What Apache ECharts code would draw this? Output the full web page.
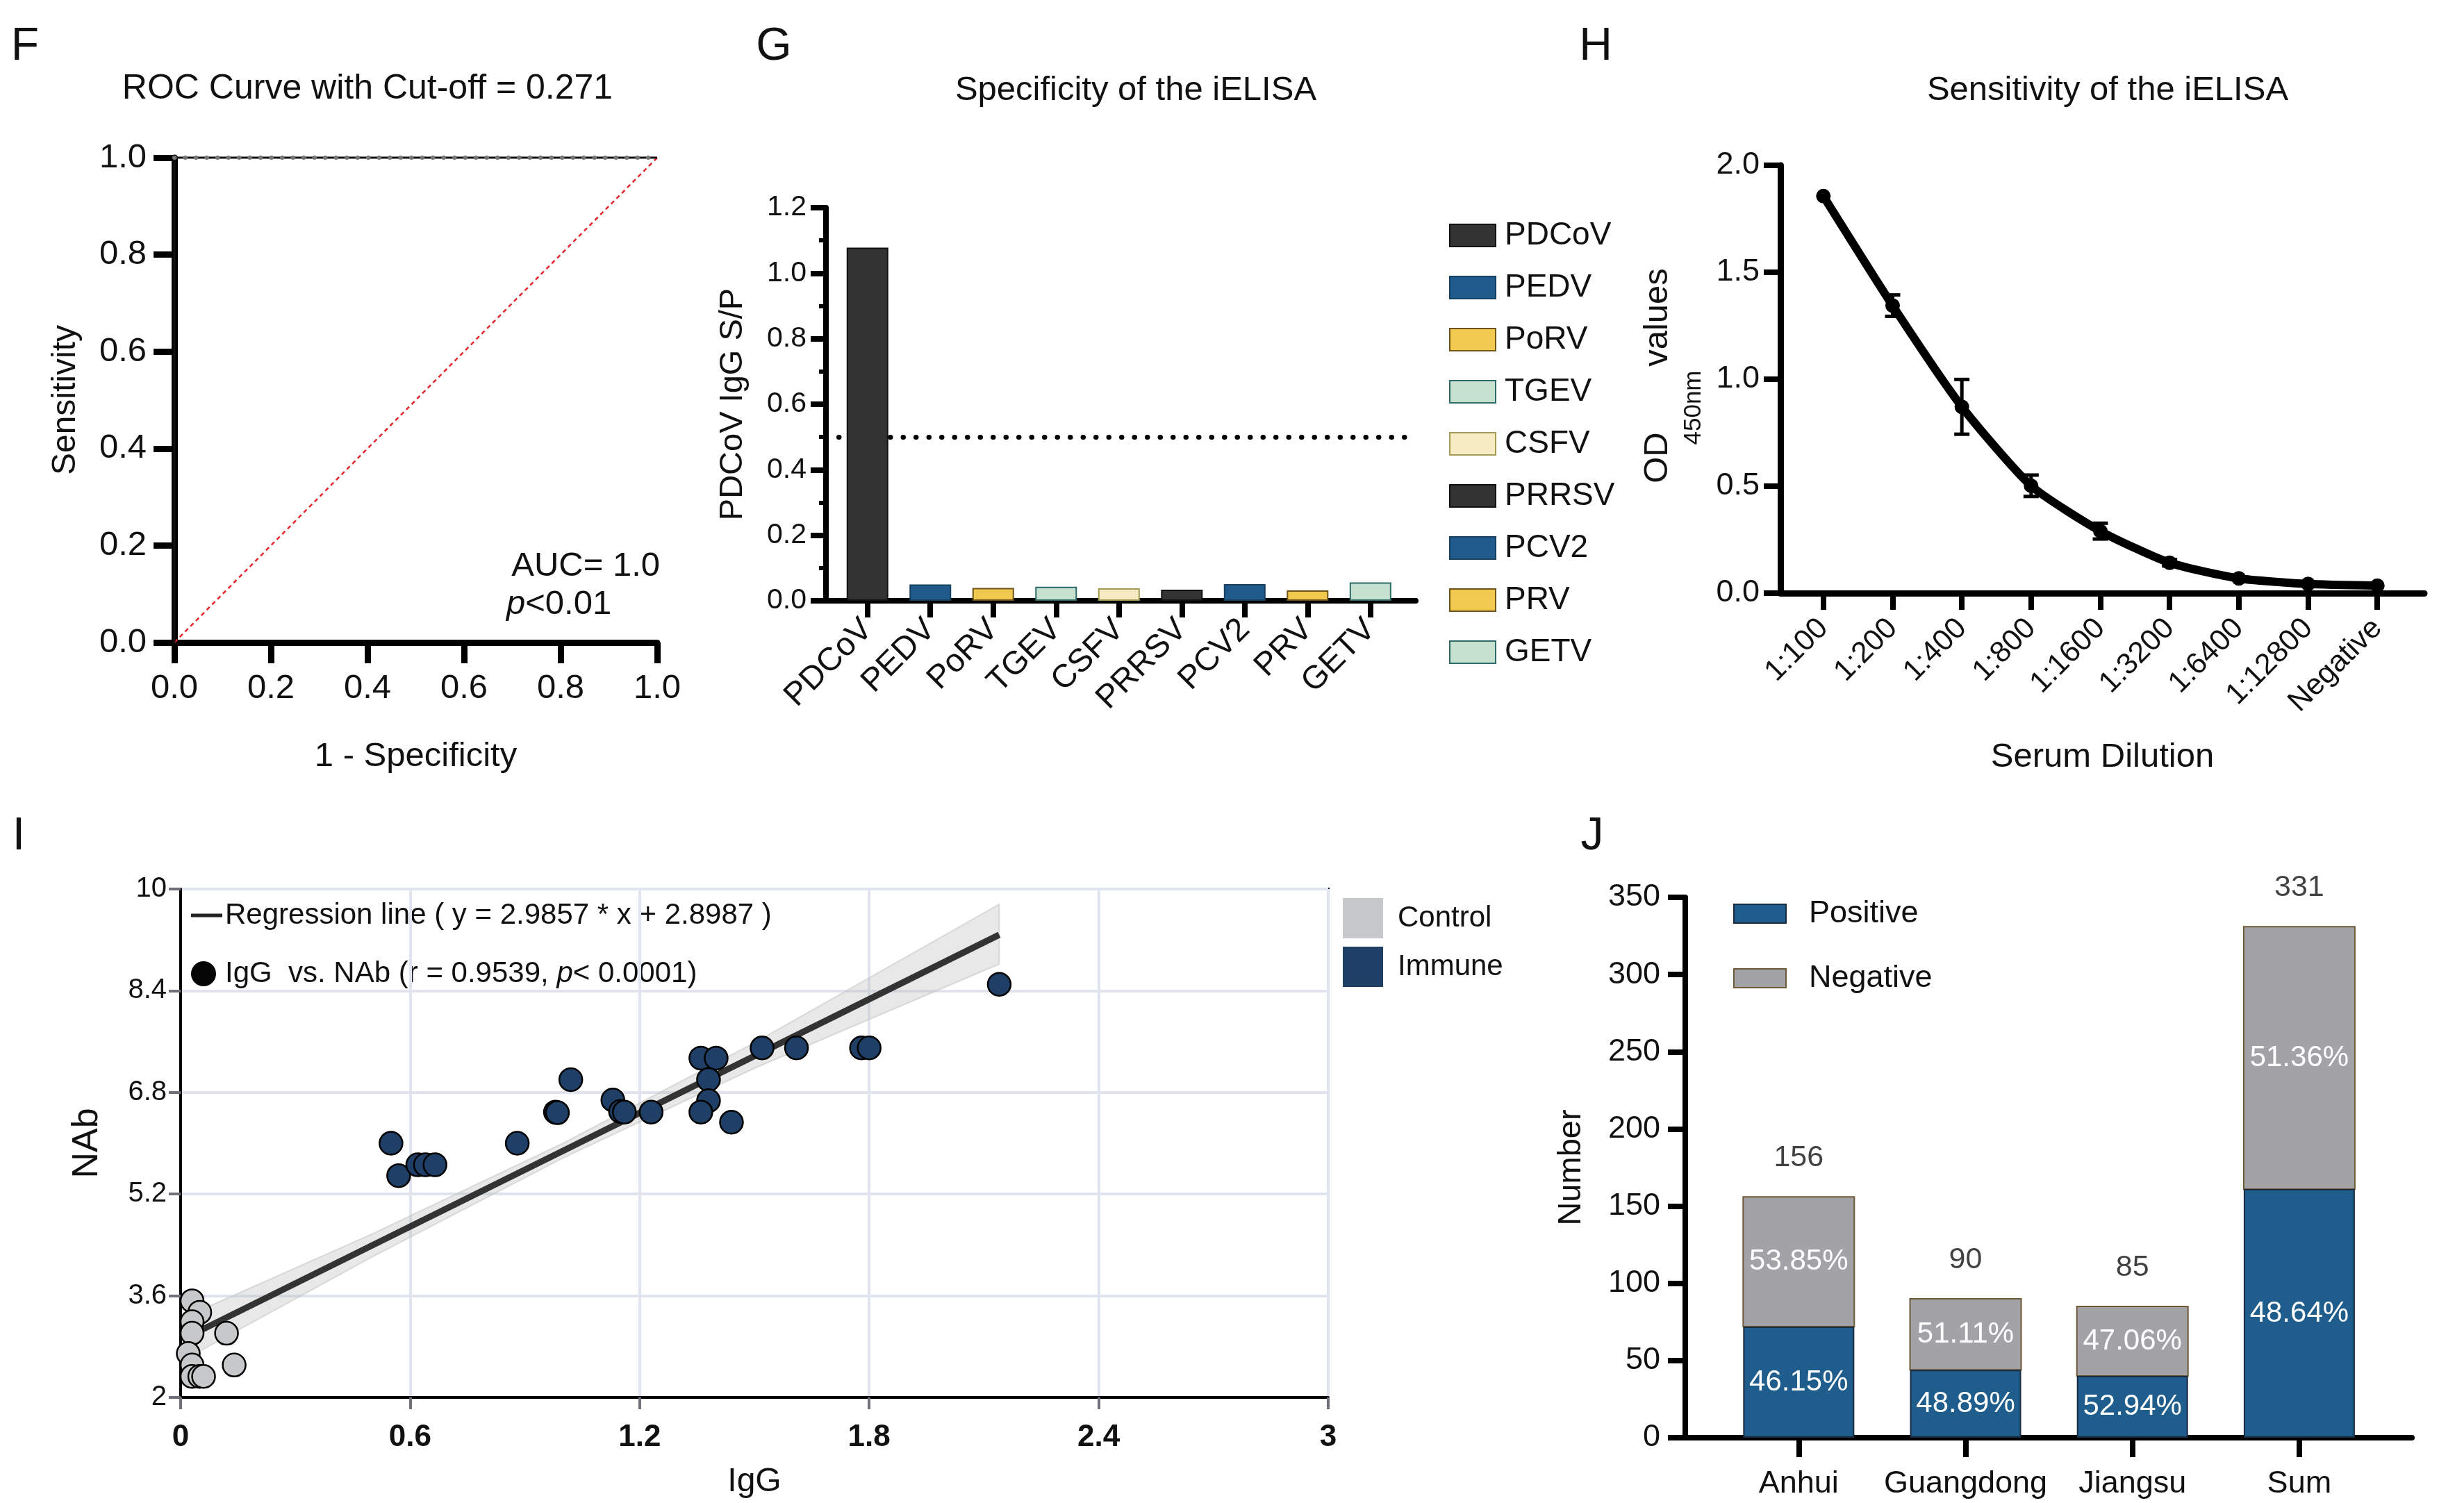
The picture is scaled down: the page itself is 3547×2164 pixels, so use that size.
<!DOCTYPE html>
<html>
<head>
<meta charset="utf-8">
<script src="https://cdn.jsdelivr.net/npm/echarts@6/dist/echarts.min.js"></script>
<style>
html, body { margin: 0; padding: 0; background: #fff; }
#main { width: 3547px; height: 2164px; }
</style>
</head>
<body>
<div id="main"></div>
<script>
// F - ROC curve
var rocFpr = [0, 0, 1];
var rocTpr = [0, 1, 1];
var chanceFpr = [0, 1];
var chanceTpr = [0, 1];

// G - specificity
var virusNames = ['PDCoV', 'PEDV', 'PoRV', 'TGEV', 'CSFV', 'PRRSV', 'PCV2', 'PRV', 'GETV'];
var virusSP = [1.078, 0.050, 0.039, 0.043, 0.038, 0.034, 0.051, 0.032, 0.056];
var spCutoff = 0.5;

// H - sensitivity
var dilutions = ['1:100', '1:200', '1:400', '1:800', '1:1600', '1:3200', '1:6400', '1:12800', 'Negative'];
var odMean = [1.856, 1.344, 0.871, 0.502, 0.290, 0.142, 0.069, 0.043, 0.035];
var odErr = [0, 0.05, 0.128, 0.05, 0.037, 0.015, 0, 0, 0];

// I - IgG vs NAb
var controlIgG = [0.03, 0.05, 0.03, 0.03, 0.12, 0.02, 0.03, 0.14, 0.03, 0.05, 0.06];
var controlNAb = [3.52, 3.34, 3.19, 3.01, 3.01, 2.69, 2.51, 2.51, 2.33, 2.33, 2.33];
var immuneIgG = [2.14, 1.52, 1.61, 1.78, 1.80, 1.36, 1.40, 1.38, 1.02, 1.13, 1.38, 1.15, 1.16, 0.98, 0.985, 1.23, 1.36, 1.44, 0.55, 0.88, 0.57, 0.62, 0.64, 0.665];
var immuneNAb = [8.50, 7.50, 7.50, 7.50, 7.50, 7.34, 7.34, 7.00, 7.00, 6.68, 6.67, 6.50, 6.49, 6.49, 6.48, 6.49, 6.49, 6.33, 6.00, 6.00, 5.49, 5.66, 5.66, 5.66];
var regIgG = [0.02, 2.14];
var regNAb = [2.96, 9.28];
var bandIgG = [0.02, 0.5, 1.0, 1.5, 2.14];
var bandUpper = [3.29, 4.57, 6.00, 7.58, 9.76];
var bandLower = [2.63, 4.21, 5.77, 7.18, 8.82];
var nabTicks = [2, 3.6, 5.2, 6.8, 8.4, 10];

// J - field samples
var regions = ['Anhui', 'Guangdong', 'Jiangsu', 'Sum'];
var positive = [72, 44, 40, 161];
var negative = [84, 46, 45, 170];
var totals = [156, 90, 85, 331];
var positivePct = ['46.15%', '48.89%', '52.94%', '48.64%'];
var negativePct = ['53.85%', '51.11%', '47.06%', '51.36%'];

var REG = "'Liberation Sans', Arial, sans-serif";
var NAR = "'Liberation Sans Narrow', 'Arial Narrow', 'Liberation Sans', sans-serif";
var virusColors = ['#333333', '#1f5a8a', '#f1c951', '#c6e1d0', '#f6ebc3', '#333333', '#1f5a8a', '#f1c951', '#c6e1d0'];
var virusBorders = ['#111111', '#16405f', '#6e5418', '#2f6b66', '#a39b52', '#111111', '#16405f', '#6e5418', '#2f6b66'];

function blackLine(w) {
    return { show: true, onZero: false, lineStyle: { color: '#000', width: w } };
}
function blackTick(len, w) {
    return { show: true, length: len, lineStyle: { color: '#000', width: w } };
}
function oneDec(v) { return v.toFixed(1); }
function idx(arr) { return arr.map(function (n, i) { return i; }); }
function txt(x, y, s, size, extra) {
    var st = { text: s, fontSize: size, fontFamily: REG, fill: '#111', align: 'center', verticalAlign: 'middle' };
    for (var k in extra) st[k] = extra[k];
    return { type: 'text', x: x, y: y, style: st };
}

var chart = echarts.init(document.getElementById('main'));

var series = [];

// F
series.push({
    type: 'line', xAxisIndex: 0, yAxisIndex: 0, clip: false, symbol: 'none',
    data: rocFpr.map(function (x, i) { return [x, rocTpr[i]]; }),
    lineStyle: { color: '#111', width: 3 }, z: 3
});
series.push({
    type: 'line', xAxisIndex: 0, yAxisIndex: 0, clip: false, symbol: 'none',
    data: rocFpr.map(function (x, i) { return [x, rocTpr[i]]; }).filter(function (p) { return p[1] === 1; }),
    lineStyle: { color: '#777', width: 6, type: [0.5, 15], cap: 'round' }, z: 4
});
series.push({
    type: 'line', xAxisIndex: 0, yAxisIndex: 0, clip: false, symbol: 'none',
    data: chanceFpr.map(function (x, i) { return [x, chanceTpr[i]]; }),
    lineStyle: { color: '#e3262b', width: 2.5, type: [6, 5] }, z: 2
});

// G
virusNames.forEach(function (name, i) {
    var s = {
        type: 'bar', name: name, xAxisIndex: 1, yAxisIndex: 1,
        data: [[i, virusSP[i]]], barWidth: 60, barGap: '-100%',
        itemStyle: { color: virusColors[i], borderColor: virusBorders[i], borderWidth: 2 },
        z: 3
    };
    if (i === 0) {
        s.markLine = {
            silent: true, symbol: 'none', z: 1, label: { show: false },
            lineStyle: { color: '#000', width: 7, type: [0.5, 18], cap: 'round' },
            data: [{ yAxis: spCutoff }]
        };
    }
    series.push(s);
});

// H
series.push({
    type: 'line', xAxisIndex: 2, yAxisIndex: 2, smooth: 0.2,
    data: idx(dilutions).map(function (i) { return [i, odMean[i]]; }),
    symbol: 'circle', symbolSize: 21,
    lineStyle: { color: '#000', width: 12 }, itemStyle: { color: '#000' }, z: 3
});
series.push({
    type: 'custom', xAxisIndex: 2, yAxisIndex: 2, z: 4,
    data: idx(dilutions).map(function (i) { return [i, odMean[i] - odErr[i], odMean[i] + odErr[i]]; }),
    renderItem: function (params, api) {
        if (api.value(2) - api.value(1) <= 0) { return { type: 'group', children: [] }; }
        var lo = api.coord([api.value(0), api.value(1)]);
        var hi = api.coord([api.value(0), api.value(2)]);
        var st = { stroke: '#000', lineWidth: 5 };
        var hw = 11;
        return {
            type: 'group', children: [
                { type: 'line', shape: { x1: lo[0], y1: lo[1], x2: hi[0], y2: hi[1] }, style: st },
                { type: 'line', shape: { x1: lo[0] - hw, y1: lo[1], x2: lo[0] + hw, y2: lo[1] }, style: st },
                { type: 'line', shape: { x1: hi[0] - hw, y1: hi[1], x2: hi[0] + hw, y2: hi[1] }, style: st }
            ]
        };
    }
});

// I
series.push({
    type: 'custom', xAxisIndex: 3, yAxisIndex: 3, silent: true, z: 1, data: [0],
    renderItem: function (params, api) {
        var pts = [];
        for (var i = 0; i < bandIgG.length; i++) pts.push(api.coord([bandIgG[i], bandUpper[i]]));
        for (var j = bandIgG.length - 1; j >= 0; j--) pts.push(api.coord([bandIgG[j], bandLower[j]]));
        return { type: 'polygon', shape: { points: pts }, style: { fill: 'rgba(180,180,180,0.3)', stroke: 'rgba(200,200,200,0.6)', lineWidth: 2 } };
    }
});
series.push({
    type: 'line', xAxisIndex: 3, yAxisIndex: 3, symbol: 'none', z: 2,
    data: regIgG.map(function (x, i) { return [x, regNAb[i]]; }),
    lineStyle: { color: '#333', width: 9 }
});
series.push({
    type: 'scatter', name: 'Control', xAxisIndex: 3, yAxisIndex: 3, symbolSize: 33, z: 3,
    data: controlIgG.map(function (x, i) { return [x, controlNAb[i]]; }),
    itemStyle: { color: '#c7c8ca', borderColor: '#000', borderWidth: 2.5, opacity: 1 }
});
series.push({
    type: 'scatter', name: 'Immune', xAxisIndex: 3, yAxisIndex: 3, symbolSize: 33, z: 3,
    data: immuneIgG.map(function (x, i) { return [x, immuneNAb[i]]; }),
    itemStyle: { color: '#1f3f66', borderColor: '#000', borderWidth: 2.5, opacity: 1 }
});

// J: positive as bars, negative segment stacked on top via custom rects
var pctFont = { fill: '#fff', fontSize: 42, fontFamily: NAR };
series.push({
    type: 'bar', name: 'Positive', xAxisIndex: 4, yAxisIndex: 4, barWidth: 160,
    data: idx(regions).map(function (i) { return [i, positive[i]]; }),
    itemStyle: { color: '#1f5d8c', borderColor: '#1a2b40', borderWidth: 2 },
    label: { show: true, position: 'inside', color: '#fff', fontSize: 42, fontFamily: NAR,
        formatter: function (p) { return positivePct[p.dataIndex]; } }
});
series.push({
    type: 'custom', name: 'Negative', xAxisIndex: 4, yAxisIndex: 4,
    itemStyle: { color: '#a3a3a7', borderColor: '#6e5a36', borderWidth: 2 },
    data: idx(regions).map(function (i) { return [i, positive[i], positive[i] + negative[i]]; }),
    renderItem: function (params, api) {
        var base = api.coord([api.value(0), api.value(1)]);
        var top = api.coord([api.value(0), api.value(2)]);
        return {
            type: 'rect',
            shape: { x: base[0] - 80, y: top[1], width: 160, height: base[1] - top[1] },
            style: { fill: '#a3a3a7', stroke: '#6e5a36', lineWidth: 2 },
            textContent: { style: Object.assign({ text: negativePct[params.dataIndex] }, pctFont) },
            textConfig: { position: 'inside' }
        };
    }
});
series.push({
    type: 'scatter', xAxisIndex: 4, yAxisIndex: 4, symbolSize: 1, silent: true,
    data: idx(regions).map(function (i) { return [i, totals[i]]; }),
    itemStyle: { color: 'rgba(0,0,0,0)' },
    label: { show: true, position: 'top', distance: 34, color: '#111', fontSize: 43, fontFamily: NAR,
        formatter: function (p) { return String(totals[p.dataIndex]); } }
});

var option = {
    animation: false,
    backgroundColor: '#fff',
    grid: [
        { left: 251, top: 227, width: 695, height: 698 },
        { left: 1189, top: 299, width: 849, height: 566 },
        { left: 2563, top: 238, width: 927, height: 616 },
        { left: 260, top: 1280, width: 1652, height: 732, show: true, borderColor: '#000', borderWidth: 4, backgroundColor: 'rgba(0,0,0,0)' },
        { left: 2426, top: 1292, width: 1046, height: 778 }
    ],
    xAxis: [
        {
            gridIndex: 0, type: 'value', min: 0, max: 1, interval: 0.2,
            axisLine: blackLine(9), axisTick: blackTick(30, 9), splitLine: { show: false },
            axisLabel: { fontSize: 49, color: '#111', fontFamily: REG, margin: 42, formatter: oneDec },
            name: '1 - Specificity', nameLocation: 'middle', nameGap: 140,
            nameTextStyle: { fontSize: 49, color: '#111', fontFamily: REG }
        },
        {
            gridIndex: 1, type: 'value', min: -0.66, max: 8.72,
            axisLine: blackLine(8), splitLine: { show: false },
            axisTick: Object.assign({ customValues: idx(virusNames) }, blackTick(24, 8)),
            axisLabel: { customValues: idx(virusNames), rotate: 45, fontSize: 47, color: '#111', fontFamily: NAR, margin: 34,
                formatter: function (v) { return virusNames[Math.round(v)]; } }
        },
        {
            gridIndex: 2, type: 'value', min: -0.62, max: 8.68,
            axisLine: blackLine(9), splitLine: { show: false },
            axisTick: Object.assign({ customValues: idx(dilutions) }, blackTick(24, 8)),
            axisLabel: { customValues: idx(dilutions), rotate: 45, fontSize: 43, color: '#111', fontFamily: NAR, margin: 44,
                formatter: function (v) { return dilutions[Math.round(v)]; } },
            name: 'Serum Dilution', nameLocation: 'middle', nameGap: 212,
            nameTextStyle: { fontSize: 49, color: '#111', fontFamily: REG }
        },
        {
            gridIndex: 3, type: 'value', min: 0, max: 3, interval: 0.6,
            axisLine: blackLine(4),
            axisTick: { show: true, length: 17, lineStyle: { color: '#6f707a', width: 4 } },
            splitLine: { show: true, lineStyle: { color: '#dfe4ee', width: 4 } },
            axisLabel: { fontSize: 44, color: '#111', fontFamily: REG, fontWeight: 'bold', margin: 36 },
            name: 'IgG', nameLocation: 'middle', nameGap: 98,
            nameTextStyle: { fontSize: 48, color: '#111', fontFamily: NAR }
        },
        {
            gridIndex: 4, type: 'value', min: -0.68, max: 3.675,
            axisLine: blackLine(8), splitLine: { show: false },
            axisTick: Object.assign({ customValues: idx(regions) }, blackTick(28, 8)),
            axisLabel: { customValues: idx(regions), fontSize: 45, color: '#111', fontFamily: NAR, margin: 44,
                formatter: function (v) { return regions[Math.round(v)]; } }
        }
    ],
    yAxis: [
        {
            gridIndex: 0, type: 'value', min: 0, max: 1, interval: 0.2,
            axisLine: blackLine(9), axisTick: blackTick(30, 9), splitLine: { show: false },
            axisLabel: { fontSize: 49, color: '#111', fontFamily: REG, margin: 40, formatter: oneDec },
            name: 'Sensitivity', nameLocation: 'middle', nameGap: 132,
            nameTextStyle: { fontSize: 48, color: '#111', fontFamily: REG }
        },
        {
            gridIndex: 1, type: 'value', min: 0, max: 1.2, interval: 0.2,
            axisLine: blackLine(8), axisTick: blackTick(22, 8), splitLine: { show: false },
            minorTick: { show: true, splitNumber: 2, length: 10, lineStyle: { color: '#000', width: 6 } },
            axisLabel: { fontSize: 41, color: '#111', fontFamily: NAR, margin: 28, formatter: oneDec },
            name: 'PDCoV IgG S/P', nameLocation: 'middle', nameGap: 110,
            nameTextStyle: { fontSize: 47, color: '#111', fontFamily: REG }
        },
        {
            gridIndex: 2, type: 'value', min: 0, max: 2, interval: 0.5,
            axisLine: blackLine(9), axisTick: blackTick(24, 8), splitLine: { show: false },
            axisLabel: { fontSize: 45, color: '#111', fontFamily: NAR, margin: 30, formatter: oneDec }
        },
        {
            gridIndex: 3, type: 'value', min: 2, max: 10,
            axisLine: blackLine(4),
            axisTick: { show: true, customValues: nabTicks, length: 17, lineStyle: { color: '#6f707a', width: 4 } },
            splitLine: { show: true, lineStyle: { color: '#dfe4ee', width: 4 } },
            axisLabel: { customValues: nabTicks, fontSize: 40, color: '#111', fontFamily: NAR, margin: 20 },
            name: 'NAb', nameLocation: 'middle', nameGap: 108,
            nameTextStyle: { fontSize: 52, color: '#111', fontFamily: NAR }
        },
        {
            gridIndex: 4, type: 'value', min: 0, max: 350, interval: 50,
            axisLine: blackLine(8), axisTick: blackTick(25, 8), splitLine: { show: false },
            axisLabel: { fontSize: 45, color: '#111', fontFamily: NAR, margin: 36 },
            name: 'Number', nameLocation: 'middle', nameGap: 140,
            nameTextStyle: { fontSize: 47, color: '#111', fontFamily: REG }
        }
    ],
    legend: [
        {
            data: virusNames, orient: 'vertical', left: 2081, top: 311, itemWidth: 66, itemHeight: 32, itemGap: 29,
            icon: 'rect', selectedMode: false,
            textStyle: { fontSize: 46, color: '#111', fontFamily: REG, padding: [0, 0, 0, 8] }
        },
        {
            data: ['Control', 'Immune'], orient: 'vertical', left: 1928, top: 1288, itemWidth: 58, itemHeight: 58, itemGap: 12,
            icon: 'rect', selectedMode: false, itemStyle: { borderWidth: 0 },
            textStyle: { fontSize: 42, color: '#111', fontFamily: NAR, padding: [0, 0, 0, 16] }
        },
        {
            data: ['Positive', 'Negative'], orient: 'vertical', left: 2490, top: 1288, itemWidth: 75, itemHeight: 27, itemGap: 48,
            icon: 'rect', selectedMode: false,
            textStyle: { fontSize: 45, color: '#111', fontFamily: NAR, padding: [0, 0, 0, 28] }
        }
    ],
    graphic: [
        txt(36, 68, 'F', 66),
        txt(1114, 68, 'G', 66),
        txt(2297, 68, 'H', 66),
        txt(27, 1205, 'I', 66),
        txt(2292, 1205, 'J', 66),
        txt(529, 128, 'ROC Curve with Cut-off = 0.271', 50),
        txt(1635, 130, 'Specificity of the iELISA', 49),
        txt(3034, 130, 'Sensitivity of the iELISA', 49),
        txt(950, 815, 'AUC= 1.0', 49, { align: 'right' }),
        txt(729, 870, '{i|p}{n|<0.01}', 49, { align: 'left',
            rich: { i: { fontSize: 49, fontStyle: 'italic', fontFamily: REG, fill: '#111' }, n: { fontSize: 49, fontFamily: REG, fill: '#111' } } }),
        Object.assign(txt(2386, 659, 'OD', 49), { rotation: Math.PI / 2 }),
        Object.assign(txt(2438, 587, '450nm', 35), { rotation: Math.PI / 2 }),
        Object.assign(txt(2386, 457, 'values', 49), { rotation: Math.PI / 2 }),
        { type: 'line', shape: { x1: 275, y1: 1318, x2: 320, y2: 1318 }, style: { stroke: '#222', lineWidth: 5 } },
        txt(324, 1318, 'Regression line ( y = 2.9857 * x + 2.8987 )', 42, { align: 'left', fontFamily: NAR }),
        { type: 'circle', shape: { cx: 293, cy: 1402, r: 18 }, style: { fill: '#050505' } },
        txt(324, 1402, '{n|IgG  vs. NAb (r = 0.9539, }{i|p}{n|< 0.0001)}', 42, { align: 'left', fontFamily: NAR,
            rich: { i: { fontSize: 42, fontStyle: 'italic', fontFamily: NAR, fill: '#111' }, n: { fontSize: 42, fontFamily: NAR, fill: '#111' } } })
    ],
    series: series
};

chart.setOption(option);
</script>
</body>
</html>
